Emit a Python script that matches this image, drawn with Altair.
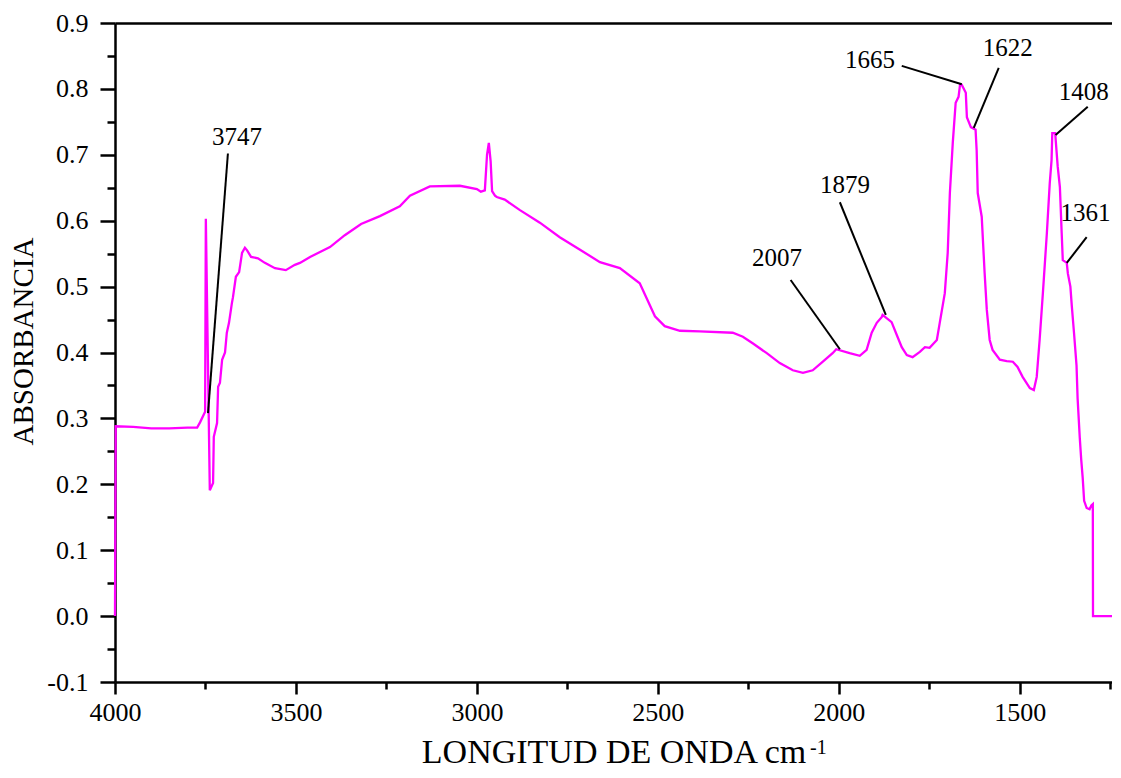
import altair as alt
import pandas as pd

# Spectrum (wavenumber cm-1, absorbance)
wavenumber = [4000, 3998, 3950, 3900, 3850, 3800, 3773, 3765, 3751, 3749, 3738,
              3729, 3727, 3718, 3715, 3710, 3704, 3696, 3691, 3685, 3677, 3674,
              3666, 3657, 3649, 3641, 3635, 3624, 3605, 3586, 3558, 3528, 3503,
              3489, 3461, 3406, 3365, 3320, 3268, 3213, 3185, 3130, 3047, 3000,
              2989, 2978, 2972, 2967, 2962, 2958, 2950, 2945, 2923, 2881, 2826,
              2771, 2715, 2660, 2605, 2550, 2508, 2481, 2439, 2384, 2293, 2265,
              2238, 2199, 2163, 2127, 2099, 2072, 2044, 2017, 2007, 1970, 1942,
              1923, 1909, 1895, 1881, 1879, 1854, 1840, 1826, 1812, 1796, 1776,
              1762, 1749, 1729, 1721, 1707, 1699, 1693, 1685, 1677, 1669, 1665,
              1660, 1649, 1646, 1635, 1622, 1619, 1616, 1605, 1597, 1591, 1583,
              1575, 1555, 1536, 1519, 1506, 1492, 1472, 1461, 1453, 1445, 1436,
              1425, 1417, 1412, 1410, 1402, 1395, 1389, 1384, 1381, 1370, 1367,
              1360, 1356, 1350, 1343, 1340, 1334, 1330, 1326, 1322, 1315, 1307,
              1302, 1298, 1297.5, 1245]
absorbance = [0.0, 0.288, 0.287, 0.285, 0.285, 0.286, 0.286, 0.294, 0.310, 0.603, 0.191,
              0.202, 0.272, 0.293, 0.348, 0.354, 0.389, 0.400, 0.430, 0.445, 0.475, 0.484,
              0.515, 0.522, 0.551, 0.559, 0.555, 0.545, 0.543, 0.536, 0.528, 0.525, 0.533,
              0.536, 0.545, 0.560, 0.578, 0.595, 0.607, 0.622, 0.638, 0.652, 0.653, 0.648,
              0.644, 0.646, 0.700, 0.718, 0.690, 0.645, 0.638, 0.636, 0.632, 0.616, 0.597,
              0.575, 0.556, 0.537, 0.528, 0.505, 0.455, 0.440, 0.433, 0.432, 0.430, 0.424,
              0.414, 0.399, 0.384, 0.373, 0.369, 0.373, 0.386, 0.399, 0.405, 0.399, 0.395,
              0.404, 0.430, 0.445, 0.454, 0.457, 0.446, 0.427, 0.408, 0.396, 0.393, 0.401,
              0.408, 0.407, 0.419, 0.445, 0.490, 0.551, 0.642, 0.718, 0.779, 0.788, 0.806,
              0.806, 0.794, 0.757, 0.742, 0.738, 0.707, 0.642, 0.606, 0.521, 0.465, 0.419,
              0.404, 0.389, 0.387, 0.386, 0.378, 0.363, 0.346, 0.343, 0.363, 0.419, 0.490,
              0.581, 0.657, 0.692, 0.733, 0.733, 0.682, 0.651, 0.581, 0.540, 0.536, 0.520,
              0.500, 0.470, 0.430, 0.380, 0.330, 0.270, 0.237, 0.210, 0.175, 0.164, 0.162,
              0.168, 0.170, 0.0, 0.0]

# Peak labels and their leader lines
peak_labels = ["3747", "2007", "1879", "1665", "1622", "1408", "1361"]
label_x = [3663, 2171, 1983, 1914, 1533, 1323, 1318]
label_y = [0.727, 0.543, 0.654, 0.844, 0.862, 0.795, 0.612]
lead_x1 = [3688, 2133, 1997, 1826, 1558, 1312, 1315]
lead_y1 = [0.702, 0.510, 0.628, 0.835, 0.832, 0.773, 0.575]
lead_x2 = [3743, 1997, 1870, 1660, 1627, 1401, 1370]
lead_y2 = [0.308, 0.405, 0.457, 0.807, 0.741, 0.730, 0.536]

x_major = [4000, 3500, 3000, 2500, 2000, 1500]
x_minor = [3750, 3250, 2750, 2250, 1750, 1250]
y_major = [-0.1, 0.0, 0.1, 0.2, 0.3, 0.4, 0.5, 0.6, 0.7, 0.8, 0.9]
y_minor = [-0.05, 0.05, 0.15, 0.25, 0.35, 0.45, 0.55, 0.65, 0.75, 0.85]

spec = pd.DataFrame({"wn": wavenumber, "ab": absorbance, "i": list(range(len(wavenumber)))})
ann = pd.DataFrame({"label": peak_labels, "lx": label_x, "ly": label_y,
                    "x1": lead_x1, "y1": lead_y1, "x2": lead_x2, "y2": lead_y2})

FONT = "Liberation Serif"
xs = alt.Scale(domain=[4000, 1245], nice=False, zero=False)
ys = alt.Scale(domain=[-0.1, 0.9], nice=False, zero=False)

line = alt.Chart(spec).mark_line(color="#FF00FF", strokeWidth=2.3, interpolate="linear").encode(
    x=alt.X("wn:Q", scale=xs, axis=alt.Axis(
        orient="bottom", values=x_major, format="d", tickSize=12, labelPadding=5,
        labelFlush=False, labelOverlap=False, grid=False,
        title="LONGITUD DE ONDA cm", titleFont=FONT, titleFontSize=34,
        titleFontWeight="normal", titleBaseline="alphabetic", titleY=80)),
    y=alt.Y("ab:Q", scale=ys, axis=alt.Axis(
        orient="left", values=y_major, tickSize=15, labelPadding=12,
        labelFlush=False, labelOverlap=False, grid=False,
        labelExpr="datum.value < -0.01 ? '-' + format(-datum.value, '.1f') : format(abs(datum.value), '.1f')",
        title="ABSORBANCIA", titleFont=FONT, titleFontSize=29, titleFontWeight="normal",
        titleAngle=270, titleAlign="center", titleBaseline="alphabetic",
        titleX=-83, titleY=318)),
    order="i:Q",
)

leaders = alt.Chart(ann).mark_rule(color="black", strokeWidth=2).encode(
    x=alt.X("x1:Q", scale=xs, axis=alt.Axis(
        orient="bottom", values=x_minor, labels=False, tickSize=7, domain=False,
        grid=False, title=None)),
    x2="x2:Q",
    y=alt.Y("y1:Q", scale=ys, axis=alt.Axis(
        orient="left", values=y_minor, labels=False, tickSize=8, domain=False,
        grid=False, title=None)),
    y2="y2:Q",
)

labels = alt.Chart(ann).mark_text(font=FONT, fontSize=25, color="black",
                                  align="center", baseline="middle").encode(
    x=alt.X("lx:Q", scale=xs, axis=alt.Axis(
        orient="top", labels=False, ticks=False, domain=True, grid=False, title=None)),
    y=alt.Y("ly:Q", scale=ys, axis=None),
    text="label:N",
)

sup = alt.Chart(pd.DataFrame({"t": ["-1"]})).mark_text(
    font=FONT, fontSize=20, color="black", align="left", baseline="alphabetic"
).encode(x=alt.value(695), y=alt.value(731), text="t:N")

chart = alt.layer(line, leaders, labels, sup).resolve_axis(
    x="independent", y="independent"
).properties(
    width=997, height=659,
    autosize=alt.AutoSizeParams(type="none"),
    padding={"left": 107, "top": 15, "right": 0, "bottom": 88},
).configure_axis(
    domainColor="black", domainWidth=2.5, tickColor="black", tickWidth=2.5,
    labelFont=FONT, labelFontSize=26, labelColor="black", titleColor="black",
).configure_view(stroke=None)

chart.save("out.html", embed_options={"renderer": "svg", "actions": False})
